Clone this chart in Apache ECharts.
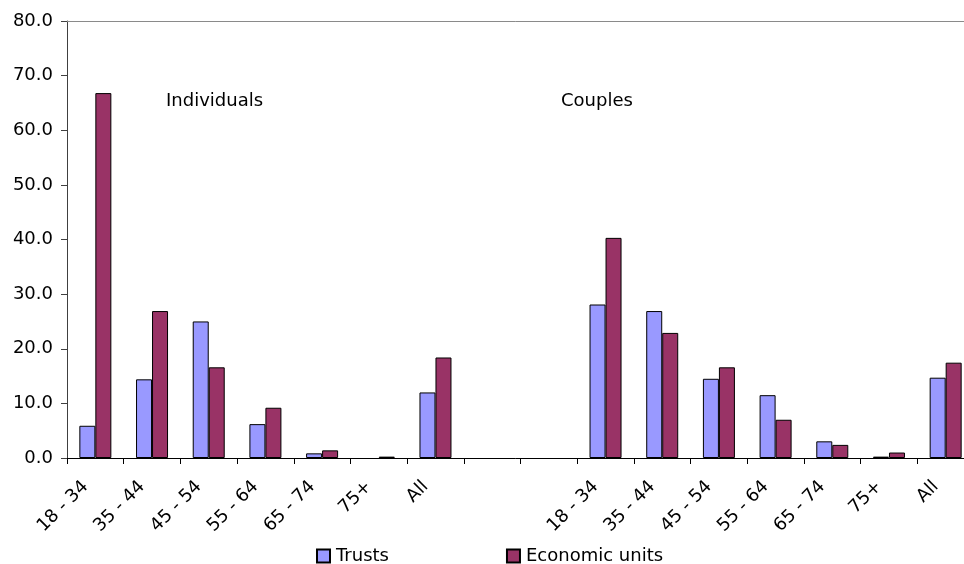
<!DOCTYPE html>
<html><head><meta charset="utf-8">
<script src="https://cdn.jsdelivr.net/npm/echarts@6/dist/echarts.min.js"></script>
<style>html,body{margin:0;padding:0;background:#fff}#c{width:964px;height:564px}</style>
</head><body><div id="c"></div>
<script>
const categories = ['18 - 34','35 - 44','45 - 54','55 - 64','65 - 74','75+','All','','','18 - 34','35 - 44','45 - 54','55 - 64','65 - 74','75+','All'];
const trusts = [5.9, 14.4, 25.0, 6.2, 0.85, null, 12.0, null, null, 28.1, 26.9, 14.5, 11.5, 3.05, 0.25, 14.7];
const economicUnits = [66.8, 26.9, 16.6, 9.2, 1.4, 0.25, 18.4, null, null, 40.3, 22.9, 16.6, 7.0, 2.4, 1.0, 17.45];
const yTicks = {min: 0, max: 80, interval: 10};
const FONT = 'DejaVu Sans';
const chart = echarts.init(document.getElementById('c'), null, {renderer: 'canvas'});
chart.setOption({
  animation: false,
  textStyle: {fontFamily: FONT},
  grid: {left: 67, top: 21, width: 907, height: 437, outerBoundsMode: 'none', containLabel: false},
  legend: {
    data: ['Trusts', 'Economic units'],
    left: 311, top: 542,
    itemWidth: 13, itemHeight: 13, itemGap: 117,
    icon: 'rect',
    textStyle: {fontFamily: FONT, fontSize: 18, color: '#000', padding: [0,0,0,1]}
  },
  xAxis: [{
    type: 'category', data: categories, boundaryGap: true,
    axisLine: {lineStyle: {color: '#000', width: 1}},
    axisTick: {show: true, interval: 0, length: 6, lineStyle: {color: '#000'}},
    axisLabel: {interval: 0, rotate: 45, fontSize: 18, color: '#000', fontFamily: FONT, margin: 16, padding: [0, 14, 0, 0], hideOverlap: false},
    splitLine: {show: false}
  }, {
    type: 'category', data: categories, position: 'top',
    axisLine: {show: true, lineStyle: {color: '#8a8a8a', width: 1}},
    axisTick: {show: false}, axisLabel: {show: false}, splitLine: {show: false}
  }],
  yAxis: {
    type: 'value', min: yTicks.min, max: yTicks.max, interval: yTicks.interval,
    axisLine: {show: true, lineStyle: {color: '#404040', width: 1}},
    axisTick: {show: true, length: 6, lineStyle: {color: '#404040'}},
    axisLabel: {fontSize: 18, color: '#000', fontFamily: FONT, margin: 14, formatter: v => v.toFixed(1)},
    splitLine: {show: false}
  },
  series: [{
    name: 'Trusts', type: 'bar', data: trusts, barWidth: 16, barGap: '0%',
    itemStyle: {color: '#9999FF', borderColor: '#000', borderWidth: 1}
  }, {
    name: 'Economic units', type: 'bar', data: economicUnits, barWidth: 16, barGap: '0%',
    itemStyle: {color: '#993366', borderColor: '#000', borderWidth: 1}
  }],
  graphic: [
    {type: 'text', left: 166, top: 92, style: {text: 'Individuals', fontFamily: FONT, fontSize: 18, fill: '#000'}},
    {type: 'text', left: 561, top: 92, style: {text: 'Couples', fontFamily: FONT, fontSize: 18, fill: '#000'}}
  ]
});
</script></body></html>
